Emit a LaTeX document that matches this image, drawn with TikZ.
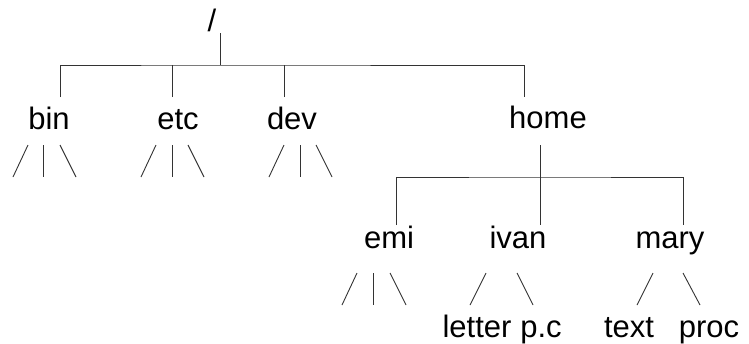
\documentclass[tikz,border=0pt]{standalone}
\usepackage{fontspec}
\setmainfont{Liberation Sans}

\begin{document}
\begin{tikzpicture}[x=1pt,y=-1pt,line width=0.9pt,color=black!80,
  dir/.style={anchor=base,inner sep=0pt,font=\fontsize{31}{31}\selectfont,text=black}]
\useasboundingbox (0,0) rectangle (749,343);

% directory names
\node[dir] (root) at (212,31) {/};
\node[dir] (bin) at (49,129) {bin};
\node[dir] (etc) at (178,129) {etc};
\node[dir] (dev) at (292,129) {dev};
\node[dir] (home) at (548,128) {home};
\node[dir] (emi) at (389,248) {emi};
\node[dir] (ivan) at (518,248) {ivan};
\node[dir] (mary) at (670,248) {mary};
\node[dir] (letter) at (477,337) {letter};
\node[dir] (pc) at (541,337) {p.c};
\node[dir] (text) at (629,337) {text};
\node[dir] (proc) at (709,337) {proc};

% where the branches meet
\coordinate (roottop) at (220,33);
\coordinate (bus) at (220,65);
\coordinate (binin) at (60,97);
\coordinate (etcin) at (172,97);
\coordinate (devin) at (284,97);
\coordinate (homein) at (524,97);
\coordinate (hometop) at (540,145);
\coordinate (subbus) at (540,177);
\coordinate (emiin) at (396,225);
\coordinate (ivanin) at (540,225);
\coordinate (maryin) at (683,225);

\draw (roottop) -- (bus);
\draw (binin) |- (bus) -| (homein);
\draw (etcin) -- (etcin |- bus);
\draw (devin) -- (devin |- bus);

\draw (hometop) -- (ivanin);
\draw (emiin) |- (subbus) -| (maryin);

% stubs for the rest of the tree
\draw (13,177) -- (28,145);
\draw (43,145) -- (43,177);
\draw (60,145) -- (76,177);

\draw (141,177) -- (156,145);
\draw (172,145) -- (172,177);
\draw (188,145) -- (204,177);

\draw (269,177) -- (284,145);
\draw (300,145) -- (300,177);
\draw (316,145) -- (332,177);

\draw (342,305) -- (357,273);
\draw (373,273) -- (373,305);
\draw (390,273) -- (406,305);

\draw (470,305) -- (486,273);
\draw (517,273) -- (533,305);

\draw (637,305) -- (653,273);
\draw (683,273) -- (700,305);
\end{tikzpicture}
\end{document}
